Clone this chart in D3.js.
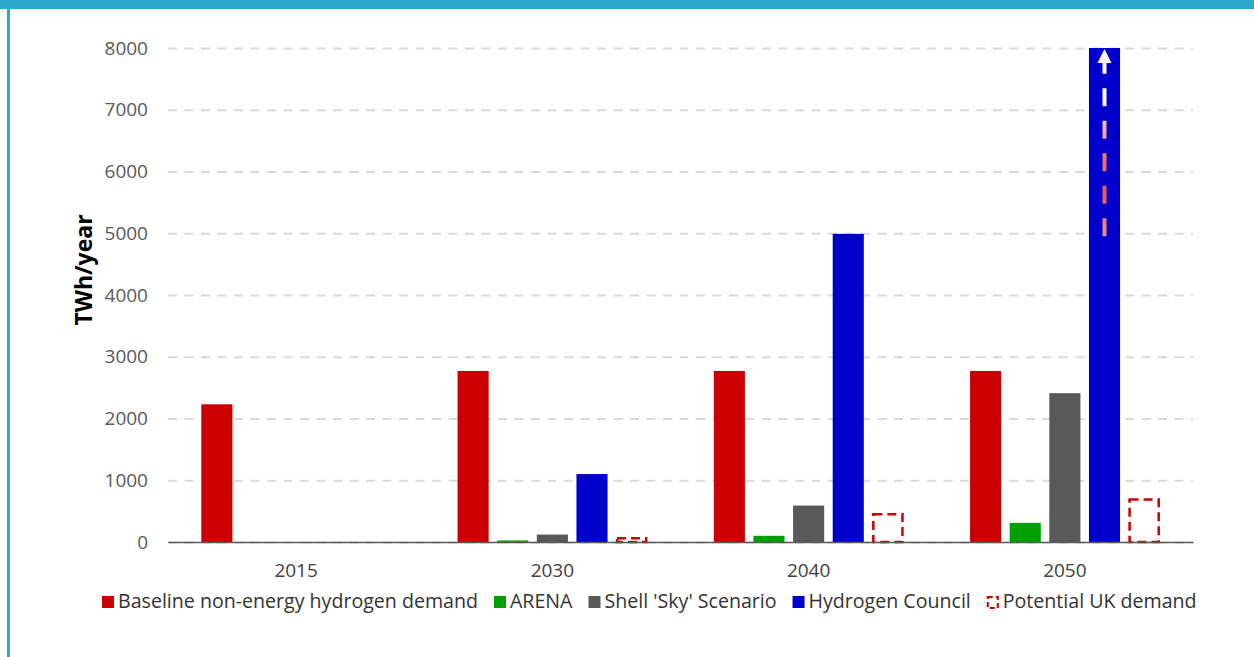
<!DOCTYPE html>
<html>
<head>
<meta charset="utf-8">
<script src="https://cdn.jsdelivr.net/npm/d3@7"></script>
<style>
  html, body { margin: 0; padding: 0; background: #fff; }
  svg { display: block; }
  text { font-family: "Open Sans", "Noto Sans", sans-serif; }
</style>
</head>
<body>
<svg id="chart" width="1254" height="657"></svg>
<script>
// ---------- data ----------
const years = ["2015", "2030", "2040", "2050"];
const seriesNames = [
  "Baseline non-energy hydrogen demand",
  "ARENA",
  "Shell 'Sky' Scenario",
  "Hydrogen Council",
  "Potential UK demand"
];
const baseline        = [2230, 2770, 2770, 2770];
const arena           = [null,   25,  100,  310];
const shellSky        = [null,  120,  590, 2410];
const hydrogenCouncil = [null, 1100, 4990, 8000];
const ukDemand        = [null,   60,  450,  690];
const yTicks = [0, 1000, 2000, 3000, 4000, 5000, 6000, 7000, 8000];
const yLabel = "TWh/year";
// growth arrow annotation on the 2050 Hydrogen Council bar (from value, to value)
const arrowYear = "2050";
const arrowFrom = 4950;
const arrowTo = 8000;

// ---------- styles ----------
const colors = ["#cc0000", "#00a000", "#595959", "#0000cc", "#cc0000"];
const dashedSeries = "Potential UK demand";

(function () {
const seriesValues = [baseline, arena, shellSky, hydrogenCouncil, ukDemand];
const table = [];
years.forEach((yr, i) => {
  seriesNames.forEach((s, j) => {
    const v = seriesValues[j][i];
    if (v !== null) table.push({ year: yr, series: s, value: v, color: colors[j] });
  });
});

const svg = d3.select("#chart");

// frame
svg.append("rect").attr("x", 0).attr("y", 0).attr("width", 1254).attr("height", 9).attr("fill", "#2aa8cf");
svg.append("rect").attr("x", 7).attr("y", 0).attr("width", 3).attr("height", 657).attr("fill", "#2aa8cf");

const pLeft = 168, pRight = 1193, pTop = 48, pBottom = 542;

const x0 = d3.scaleBand().domain(years).range([pLeft, pRight]).paddingInner(0.229).paddingOuter(0.1145);
const x1 = d3.scaleBand().domain(seriesNames).range([0, x0.bandwidth()]).paddingInner(0.215).paddingOuter(0.1);
const y = d3.scaleLinear().domain([0, 8000]).range([pBottom, pTop]);

// y axis with gridlines
const yAxis = svg.append("g")
  .attr("transform", `translate(${pLeft},0)`)
  .call(d3.axisLeft(y).tickValues(yTicks).tickFormat(d3.format("d"))
    .tickSize(-(pRight - pLeft)).tickPadding(20));
yAxis.select(".domain").remove();
yAxis.selectAll(".tick line")
  .attr("stroke", "#d9d9d9").attr("stroke-width", 2).attr("stroke-dasharray", "9,7.5");
yAxis.selectAll(".tick text")
  .attr("fill", "#595959").style("font-size", "19px").style("font-family", "'Open Sans', sans-serif");

// y label
svg.append("text")
  .attr("transform", `translate(92,270) rotate(-90)`)
  .attr("text-anchor", "middle")
  .style("font-size", "23px").style("font-weight", "700").attr("fill", "#000")
  .text(yLabel);

// bars
const groups = svg.append("g").selectAll("g").data(years).join("g")
  .attr("transform", d => `translate(${x0(d)},0)`);

groups.selectAll("rect.solid")
  .data(yr => table.filter(t => t.year === yr && t.series !== dashedSeries))
  .join("rect")
  .attr("class", "solid")
  .attr("x", d => x1(d.series))
  .attr("y", d => y(d.value))
  .attr("width", x1.bandwidth())
  .attr("height", d => y(0) - y(d.value))
  .attr("fill", d => d.color);

groups.selectAll("rect.dashed")
  .data(yr => table.filter(t => t.year === yr && t.series === dashedSeries))
  .join("rect")
  .attr("class", "dashed")
  .attr("x", d => x1(d.series) + 1)
  .attr("y", d => y(d.value))
  .attr("width", x1.bandwidth() - 2)
  .attr("height", d => y(0) - y(d.value))
  .attr("fill", "none")
  .attr("stroke", d => d.color)
  .attr("stroke-width", 2.5)
  .attr("stroke-dasharray", "9,5");

// arrow annotation
const defs = svg.append("defs");
const grad = defs.append("linearGradient").attr("id", "arrowGrad")
  .attr("gradientUnits", "userSpaceOnUse")
  .attr("x1", 0).attr("x2", 0).attr("y1", y(arrowFrom)).attr("y2", y(arrowTo));
grad.append("stop").attr("offset", 0.05).attr("stop-color", "#f38888");
grad.append("stop").attr("offset", 0.22).attr("stop-color", "#ef5757");
grad.append("stop").attr("offset", 0.39).attr("stop-color", "#f06a6a");
grad.append("stop").attr("offset", 0.56).attr("stop-color", "#f5aaaa");
grad.append("stop").attr("offset", 0.74).attr("stop-color", "#ffffff");
grad.append("stop").attr("offset", 1).attr("stop-color", "#fff4f4");

const ax = x0(arrowYear) + x1("Hydrogen Council") + x1.bandwidth() / 2;
const headH = 14, headW = 14;
svg.append("line")
  .attr("x1", ax).attr("x2", ax)
  .attr("y1", y(arrowFrom)).attr("y2", y(arrowTo) + headH)
  .attr("stroke", "url(#arrowGrad)").attr("stroke-width", 4)
  .attr("stroke-dasharray", "18,14.5");
svg.append("path")
  .attr("d", `M${ax},${y(arrowTo) + 1}L${ax + headW / 2},${y(arrowTo) + headH + 1}L${ax - headW / 2},${y(arrowTo) + headH + 1}Z`)
  .attr("fill", "#fff4f4");

// x axis
const xAxis = svg.append("g")
  .attr("transform", `translate(0,${pBottom})`)
  .call(d3.axisBottom(x0).tickSize(0).tickSizeOuter(0).tickPadding(22));
xAxis.select(".domain").attr("stroke", "#595959").attr("stroke-width", 1.5);
xAxis.selectAll(".tick text")
  .attr("fill", "#404040").style("font-size", "19px").style("font-family", "'Open Sans', sans-serif");

// legend
const legend = svg.append("g").attr("transform", "translate(102,608)");
let lx = 0;
seriesNames.forEach((s, j) => {
  const g = legend.append("g").attr("transform", `translate(${lx},0)`);
  if (s === dashedSeries) {
    g.append("rect").attr("x", 1).attr("y", -11).attr("width", 10).attr("height", 11)
      .attr("fill", "none").attr("stroke", colors[j]).attr("stroke-width", 2).attr("stroke-dasharray", "5,3");
  } else {
    g.append("rect").attr("x", 0).attr("y", -12).attr("width", 12).attr("height", 12).attr("fill", colors[j]);
  }
  const t = g.append("text").attr("x", 16).attr("y", 0)
    .style("font-size", "19.6px").attr("fill", "#333").text(s);
  lx += 16 + t.node().getComputedTextLength() + 16;
});
})();
</script>
</body>
</html>
